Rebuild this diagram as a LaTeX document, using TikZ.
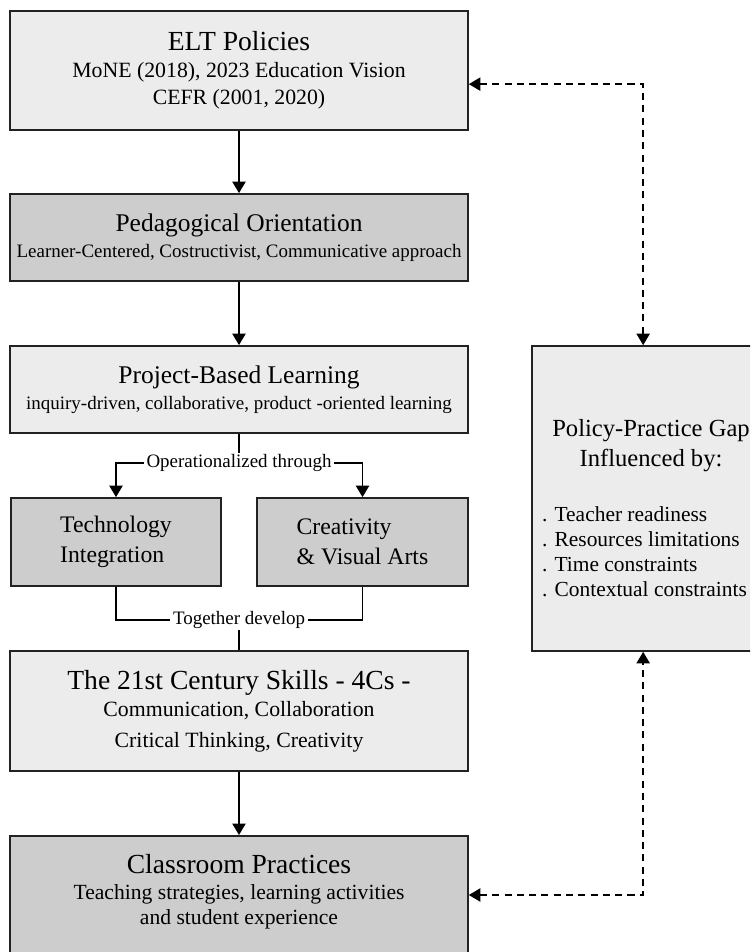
\documentclass[tikz,border=0pt]{standalone}
\usepackage{fontspec}
\setmainfont{Liberation Serif}
\usetikzlibrary{arrows.meta,calc}

\definecolor{lightfill}{HTML}{EDECED}
\definecolor{darkfill}{HTML}{CDCDCD}
\definecolor{edgegray}{HTML}{222222}

\newcommand{\bigttl}{\fontsize{15.7}{15.4}\selectfont}
\newcommand{\medttl}{\fontsize{14.5}{14.6}\selectfont}
\newcommand{\gapttl}{\fontsize{14}{14.3}\selectfont}

\tikzset{
	flowbox/.style={draw=edgegray, line width=1pt, minimum width=9.16cm, inner sep=0pt, align=center},
	lightbox/.style={flowbox, fill=lightfill},
	darkbox/.style={flowbox, fill=darkfill},
	link/.style={draw=black, line width=0.9pt},
	arr/.style={link, -{Triangle[width=7.5pt,length=6.5pt]}},
	dasharr/.style={draw=black, line width=0.8pt, dash pattern=on 4pt off 3pt,
		{Triangle[width=7.5pt,length=6.5pt]}-{Triangle[width=7.5pt,length=6.5pt]}},
	linklabel/.style={inner xsep=1.5pt, inner ysep=0.5pt, font=\fontsize{10.8}{13}\selectfont}
}

\begin{document}
\begin{tikzpicture}[x=0.02cm, y=-0.02cm]
	\useasboundingbox (0,0) rectangle (750,952);
	\clip (0,0) rectangle (750,952);
	
	\node[lightbox, minimum height=2.38cm, font=\fontsize{12.4}{15.4}\selectfont] (elt) at (239,70.5)
	{{\bigttl ELT Policies}\\MoNE (2018), 2023 Education Vision\\CEFR (2001, 2020)};
	\node[darkbox, minimum height=1.74cm, font=\fontsize{10.8}{14.6}\selectfont] (ped) at (239,237.5)
	{{\medttl Pedagogical Orientation}\\Learner-Centered, Costructivist, Communicative approach};
	\node[lightbox, minimum height=1.74cm, font=\fontsize{10.8}{14.6}\selectfont] (pbl) at (239,389.5)
	{{\medttl Project-Based Learning}\\inquiry-driven, collaborative, product -oriented learning};
	
	\node[darkbox, minimum width=4.2cm, minimum height=1.76cm, align=left, font=\fontsize{13.5}{17}\selectfont] (tech) at (116,542)
	{Technology\\Integration};
	\node[darkbox, minimum width=4.22cm, minimum height=1.76cm, align=left, font=\fontsize{13.5}{17}\selectfont] (crea) at (362.5,542)
	{Creativity\\\& Visual Arts};
	
	\node[lightbox, minimum height=2.4cm, font=\fontsize{12.4}{15.4}\selectfont] (skills) at (239,711)
	{{\bigttl The 21st Century Skills - 4Cs -}\\Communication, Collaboration\\[2.2pt]Critical Thinking, Creativity};
	
	\node[darkbox, minimum height=4cm, anchor=north] (class) at (239,835) {};
	\node[align=center, inner sep=0pt, font=\fontsize{12.3}{14.6}\selectfont] (classtext) at (239,892)
	{{\bigttl Classroom Practices}\\Teaching strategies, learning activities\\and student experience};
	
	\node[lightbox, minimum width=4.76cm, minimum height=6.1cm] (gap) at (651,498.5) {};
	\node[align=center, inner sep=0pt, font=\fontsize{12.2}{14.3}\selectfont] (gaptext) at (651,512)
	{{\gapttl Policy-Practice Gap}\\[2.7pt]{\gapttl Influenced by:}\\[17pt]
		\begin{tabular}[t]{@{}l@{}}. Teacher readiness\\. Resources limitations\\. Time constraints\\. Contextual constraints\end{tabular}\hspace*{0.26cm}};
	
	\node[linklabel] (opthru) at (239,463) {Operationalized through};
	\node[linklabel] (together) at (239,620) {Together develop};
	
	\foreach \a/\b in {elt/ped,ped/pbl,skills/class}
	\draw[arr] (\a) -- (\b);
	\draw[link] (pbl) -- (opthru);
	\draw[arr] (opthru) -| (tech);
	\draw[arr] (opthru) -| (crea);
	\draw[link] (tech) |- (together);
	\draw[link] (crea) |- (together);
	\draw[link] (together) -- (skills);
	
	\draw[dasharr] ($(elt.north east)+(0,74)$) -| ($(gap.north west)+(112,0)$);
	\draw[dasharr] ($(class.north east)+(0,60)$) -| ($(gap.south west)+(112,0)$);
\end{tikzpicture}
\end{document}
